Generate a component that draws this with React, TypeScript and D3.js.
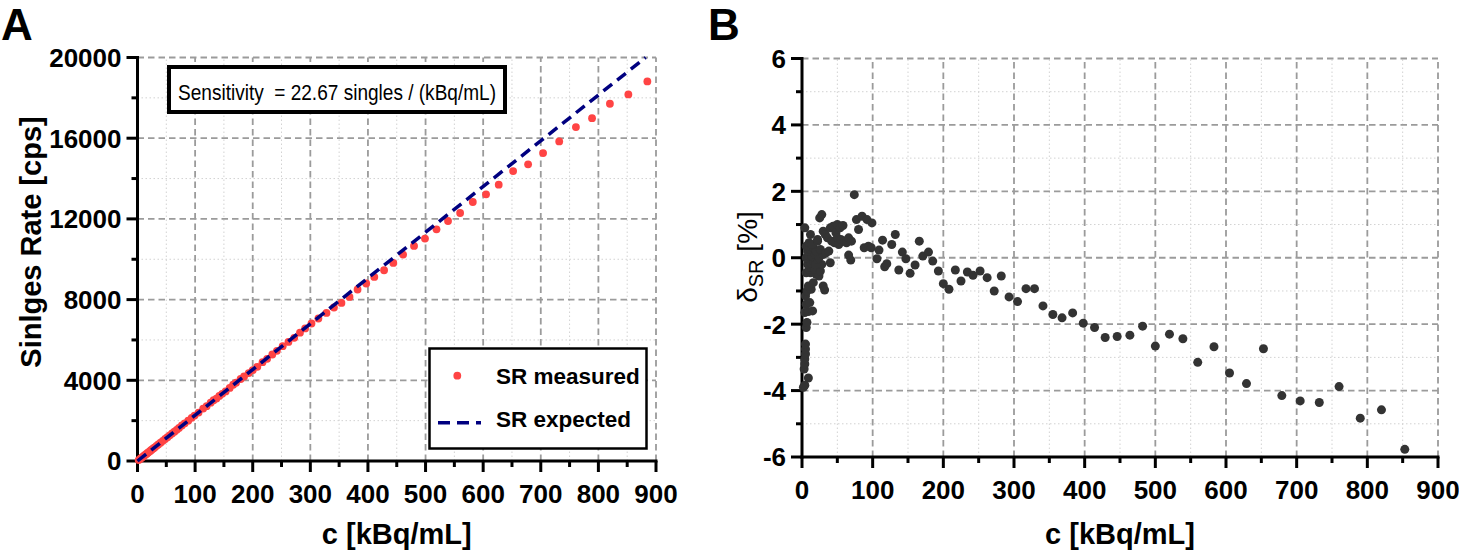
import React from "react";
import * as d3 from "d3";

// ---------- Panel A: singles rate vs activity concentration ----------
const concA = [
  2, 4, 6, 8, 10, 12, 14, 16, 18, 20, 22, 24, 26, 28, 30, 33, 36, 40, 44, 48,
  52, 56, 60, 64, 68, 72, 77, 82, 88, 94, 99, 106, 114, 120, 127, 132, 137,
  142, 147, 153, 160, 166, 171, 179, 185, 193, 200, 208, 217, 225, 234, 242,
  252, 262, 272, 282, 291, 302, 314, 328, 341, 354, 368, 382, 397, 411, 428,
  444, 461, 480, 499, 519, 539, 560, 582, 605, 627, 652, 678, 704, 732, 761,
  789, 820, 852, 885,
];
const srMeasured = [
  44, 91, 136, 181, 227, 272, 318, 363, 408, 453, 499, 544, 589, 635, 680,
  750, 818, 908, 1000, 1090, 1180, 1275, 1365, 1455, 1545, 1640, 1760, 1865,
  2000, 2140, 2250, 2400, 2600, 2715, 2890, 3010, 3095, 3225, 3330, 3450,
  3620, 3780, 3880, 4065, 4190, 4360, 4500, 4670, 4900, 5065, 5280, 5460,
  5690, 5900, 6105, 6360, 6569, 6816, 7064, 7342, 7609, 7837, 8134, 8500,
  8797, 9124, 9455, 9817, 10230, 10658, 11025, 11485, 11896, 12292, 12837,
  13218, 13698, 14371, 14703, 15262, 15842, 16550, 16995, 17707, 18168, 18812,
];
// expected line, sensitivity 22.67 singles / (kBq/mL)
const expectedC = [0, 882];
const expectedSR = [0, 20000];

// ---------- Panel B: relative deviation ----------
const deltaC = [
  2, 4, 9, 3, 4, 4, 5, 5, 5, 6, 7, 4, 9, 15, 6, 11, 5, 7, 13, 9, 16, 30, 32,
  20, 24, 12, 6, 10, 14, 18, 26, 28, 8, 12, 16, 20, 22, 6, 10, 14, 18, 24, 30,
  8, 12, 16, 20, 26, 6, 10, 14, 22, 34, 38, 40,
  4, 12, 22, 25, 28, 30, 33, 36, 40, 44, 48, 50, 54, 58, 42, 46, 50, 52, 55,
  60, 63, 66, 70, 66, 69, 74, 77, 80, 85, 88, 92, 94, 99, 98,
  106, 109, 114, 117, 120, 127, 132, 137, 142, 147, 153, 160, 166, 171, 179,
  185, 193, 200, 208, 217, 225, 234, 242, 252, 262, 272, 282, 293, 305, 317,
  329, 341, 355, 368, 383, 398, 414, 429, 446, 464, 482, 500, 520, 539, 560,
  583, 605, 629, 653, 679, 705, 732, 760, 790, 820, 853,
];
const deltaSR = [
  -3.9, -3.84, -3.62, -3.35, -3.2, -3.05, -2.9, -2.75, -2.6, -2.1, -1.95,
  -1.65, -1.62, -1.6, -1.4, -1.35, -1.15, -1.0, -0.95, -0.85, -0.75, -0.85,
  -0.97, -0.5, -0.55, -0.45, -0.45, -0.35, -0.3, -0.35, -0.4, -0.2, -0.2,
  -0.15, -0.1, -0.2, -0.05, 0.0, 0.05, 0.05, 0.1, 0.0, 0.1, 0.2, 0.25, 0.3,
  0.2, 0.25, 0.35, 0.45, 0.4, 0.5, 0.15, 0.2, -0.15,
  0.9, 0.7, 0.55, 1.2, 1.3, 0.8, 0.7, 0.6, 0.9, 0.95, 0.75, 1.0, 0.9, 0.97,
  0.5, 0.45, 0.6, 0.4, 0.55, 0.5, 0.45, 0.6, 0.5, 0.08, -0.07, 1.9, 1.15,
  0.85, 1.25, 0.3, 1.15, 0.35, 1.05, 0.3,
  -0.03, 0.23, 0.53, -0.27, -0.18, 0.4, 0.7, -0.37, 0.17, -0.03, -0.47,
  -0.22, 0.5, 0.05, 0.17, -0.1, -0.4, -0.78, -0.95, -0.37, -0.7, -0.43,
  -0.53, -0.4, -0.6, -1.0, -0.55, -1.18, -1.32, -0.93, -0.93, -1.45, -1.71,
  -1.81, -1.66, -1.97, -2.1, -2.4, -2.37, -2.33, -2.06, -2.66, -2.3, -2.44,
  -3.15, -2.68, -3.47, -3.79, -2.74, -4.15, -4.31, -4.36, -3.88, -4.83,
  -4.58, -5.77,
];

const cMajor = [0, 100, 200, 300, 400, 500, 600, 700, 800, 900];
const cMinor = [50, 150, 250, 350, 450, 550, 650, 750, 850];
const srMajor = [0, 4000, 8000, 12000, 16000, 20000];
const srMinor = [2000, 6000, 10000, 14000, 18000];
const dMajor = [-6, -4, -2, 0, 2, 4, 6];
const dMinor = [-5, -3, -1, 1, 3, 5];

const FONT = "'Liberation Sans', Arial, Helvetica, sans-serif";

type Scale = d3.ScaleLinear<number, number>;

function AxesFrame({
  x,
  y,
  xMajor,
  xMinor,
  yMajor,
  yMinor,
}: {
  x: Scale;
  y: Scale;
  xMajor: number[];
  xMinor: number[];
  yMajor: number[];
  yMinor: number[];
}) {
  const [x0, x1] = x.range();
  const [y0, y1] = y.range(); // y0 = bottom, y1 = top
  const dotted = { stroke: "#d2d2d2", strokeWidth: 1, strokeDasharray: "1.5 2.5" };
  const dashed = { stroke: "#9b9b9b", strokeWidth: 1.8, strokeDasharray: "6.5 4" };
  return (
    <g>
      {/* minor grid */}
      {xMinor.map((v) => (
        <line key={"xm" + v} x1={x(v)} x2={x(v)} y1={y0} y2={y1} {...dotted} />
      ))}
      {yMinor.map((v) => (
        <line key={"ym" + v} x1={x0} x2={x1} y1={y(v)} y2={y(v)} {...dotted} />
      ))}
      {/* major grid */}
      {xMajor.slice(1).map((v) => (
        <line key={"xM" + v} x1={x(v)} x2={x(v)} y1={y0} y2={y1} {...dashed} />
      ))}
      {yMajor.slice(1).map((v) => (
        <line key={"yM" + v} x1={x0} x2={x1} y1={y(v)} y2={y(v)} {...dashed} />
      ))}
      {/* axis lines */}
      <line x1={x0 - 1.5} x2={x1 + 1.5} y1={y0} y2={y0} stroke="#000" strokeWidth={3} />
      <line x1={x0} x2={x0} y1={y0 + 1.5} y2={y1 - 1.5} stroke="#000" strokeWidth={3} />
      {/* ticks */}
      {xMajor.map((v) => (
        <line key={"xt" + v} x1={x(v)} x2={x(v)} y1={y0} y2={y0 + 11} stroke="#000" strokeWidth={3} />
      ))}
      {xMinor.map((v) => (
        <line key={"xn" + v} x1={x(v)} x2={x(v)} y1={y0} y2={y0 + 6} stroke="#000" strokeWidth={3} />
      ))}
      {yMajor.map((v) => (
        <line key={"yt" + v} x1={x0 - 11} x2={x0} y1={y(v)} y2={y(v)} stroke="#000" strokeWidth={3} />
      ))}
      {yMinor.map((v) => (
        <line key={"yn" + v} x1={x0 - 6} x2={x0} y1={y(v)} y2={y(v)} stroke="#000" strokeWidth={3} />
      ))}
      {/* tick labels */}
      {xMajor.map((v) => (
        <text key={"xl" + v} x={x(v)} y={y0 + 42} textAnchor="middle" fontSize={26} fontWeight="bold">
          {v}
        </text>
      ))}
      {yMajor.map((v) => (
        <text key={"yl" + v} x={x0 - 16} y={y(v)} dy="0.36em" textAnchor="end" fontSize={26} fontWeight="bold">
          {v}
        </text>
      ))}
    </g>
  );
}

function PanelA() {
  const x = d3.scaleLinear().domain([0, 900]).range([137.5, 656]);
  const y = d3.scaleLinear().domain([0, 20000]).range([461, 57.5]);
  const expLine = d3
    .line<number>()
    .x((d) => x(d))
    .y((_, i) => y(expectedSR[i]));
  return (
    <g>
      <text x={1} y={40} fontSize={44} fontWeight="bold">A</text>
      <AxesFrame x={x} y={y} xMajor={cMajor} xMinor={cMinor} yMajor={srMajor} yMinor={srMinor} />
      {concA.map((c, i) => (
        <circle key={i} cx={x(c)} cy={y(srMeasured[i])} r={3.9} fill="#ff4444" />
      ))}
      <path d={expLine(expectedC) || ""} fill="none" stroke="#000080" strokeWidth={3.5} strokeDasharray="11 6.5" />
      {/* sensitivity box */}
      <rect x={169} y={67} width={336} height={45} fill="#fff" stroke="#000" strokeWidth={4} />
      <text
        x={337}
        y={100}
        textAnchor="middle"
        fontSize={22}
        textLength={318}
        lengthAdjust="spacingAndGlyphs"
        style={{ whiteSpace: "pre" }}
      >
        {"Sensitivity  = 22.67 singles / (kBq/mL)"}
      </text>
      {/* legend */}
      <rect x={429.5} y={348.5} width={217} height={100} fill="#fff" stroke="#000" strokeWidth={2.5} />
      <circle cx={457.3} cy={375.7} r={3.9} fill="#ff4444" />
      <text x={496} y={384} fontSize={22.5} fontWeight="bold">SR measured</text>
      <line x1={438} x2={481} y1={422.7} y2={422.7} stroke="#000080" strokeWidth={3.5} strokeDasharray="12 7" />
      <text x={496} y={427} fontSize={22.5} fontWeight="bold">SR expected</text>
      {/* axis titles */}
      <text x={(137.5 + 656) / 2} y={544} textAnchor="middle" fontSize={29} fontWeight="bold">
        c [kBq/mL]
      </text>
      <text transform="translate(41,242) rotate(-90)" textAnchor="middle" fontSize={29} fontWeight="bold">
        Sinlges Rate [cps]
      </text>
    </g>
  );
}

function PanelB() {
  const x = d3.scaleLinear().domain([0, 900]).range([802, 1438]);
  const y = d3.scaleLinear().domain([-6, 6]).range([457, 58.5]);
  return (
    <g>
      <text x={708} y={40} fontSize={44} fontWeight="bold">B</text>
      <AxesFrame x={x} y={y} xMajor={cMajor} xMinor={cMinor} yMajor={dMajor} yMinor={dMinor} />
      {deltaC.map((c, i) => (
        <circle key={i} cx={x(c)} cy={y(deltaSR[i])} r={4.5} fill="#333333" />
      ))}
      <text x={(802 + 1438) / 2} y={544} textAnchor="middle" fontSize={29} fontWeight="bold">
        c [kBq/mL]
      </text>
      <text transform="translate(757,257) rotate(-90)" textAnchor="middle" fontSize={28}>
        <tspan>δ</tspan>
        <tspan fontSize={20} dy={6}>SR</tspan>
        <tspan dy={-6}> [%]</tspan>
      </text>
    </g>
  );
}

export default function App() {
  return (
    <svg
      width={1459}
      height={556}
      viewBox="0 0 1459 556"
      style={{ position: "absolute", left: 0, top: 0, background: "#fff", fontFamily: FONT }}
    >
      <rect width={1459} height={556} fill="#fff" />
      <PanelA />
      <PanelB />
    </svg>
  );
}
